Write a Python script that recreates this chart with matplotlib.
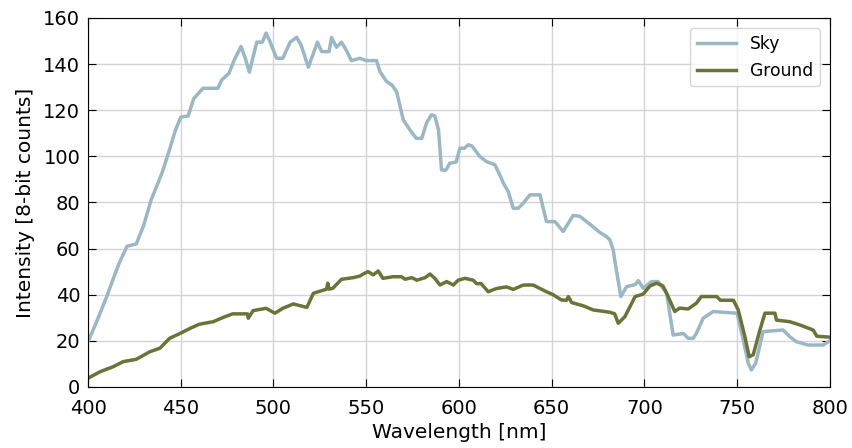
import matplotlib
matplotlib.use("Agg")
import matplotlib.pyplot as plt

sky_nm = [400, 405, 410, 415, 417, 421, 426, 430, 434, 437, 440, 444, 447, 450, 454, 457, 462, 470,
          472, 476, 479, 482.5, 485, 487, 491, 494, 496, 498, 501.7, 505, 509, 512.5, 515, 518.8,
          523.7, 526, 530, 531.3, 534, 536.7, 539.4, 542, 546.6, 550, 555.6, 557.4, 561, 563.8,
          566.4, 570, 573.6, 577, 580, 582.5, 585.2, 587, 589, 590.6, 593, 595, 598.5, 600.5, 603,
          605, 607, 611.3, 614.9, 619.4, 622, 624, 626.6, 629.3, 632, 634.7, 638.3, 643.7, 647.2,
          651.8, 656.2, 661.6, 665.2, 668.8, 672.4, 676, 679.6, 681.4, 683.2, 684, 687.3, 690.4,
          695, 696.7, 699.4, 703.8, 707.4, 712, 715.5, 721, 723.6, 726.3, 728, 731.7, 737, 746,
          750, 753.3, 756, 757.7, 760, 764, 774.8, 778.4, 782, 788.3, 796.4, 800]
sky_val = [19.6, 29, 39, 50, 54, 61, 62, 70, 81, 87, 93, 103, 111, 117, 117.5, 125, 129.5, 129.5,
           133, 136, 142, 147.6, 142, 136.5, 149.5, 149.5, 153.4, 150, 142.5, 142.5, 149.5, 151.6, 148, 138.6,
           149.5, 145.4, 145.4, 151.5, 147.3, 149.5, 145.8, 141.5, 142.5, 141.5, 141.5, 136.7, 132.4, 131,
           128, 115.8, 111.4, 107.8, 107.8, 114.4, 118, 117.5, 111.4, 94.1, 94, 97, 97.5, 103.5, 103.5,
           105, 104.5, 99.9, 97.7, 96.3, 92, 88.3, 84.7, 77.5, 77.5, 79.7, 83.3, 83.3, 71.7,
           71.7, 67.4, 74.4, 74, 71.7, 69.4, 67, 65.2, 63.7, 59.4, 55, 39.2, 43.5,
           44.4, 46.1, 42.8, 45.7, 45.7, 40.6, 22.5, 23.2, 21.1, 21.1, 23.2, 29.8, 32.7, 32.2,
           32, 20.4, 10.3, 7.4, 10.3, 24, 24.7, 21.8, 19.6, 18.2, 18.2, 20]

ground_nm = [400, 406.5, 413.6, 419, 426, 433.4, 438.8, 444, 449.6, 455, 460, 467.5, 473, 478, 486,
             486.4, 489, 496, 500.8, 505, 510.7, 518, 521.5, 528.6, 529.3, 530, 532, 536.7, 543,
             546.6, 548.4, 551, 553.8, 556.5, 559, 564.5, 569, 571, 574.6, 577.3, 581.8, 584.4, 587,
             589.8, 593.4, 597, 599.6, 603.2, 607.7, 609.5, 612, 615.8, 620.3, 625.7, 629.3, 634.7,
             640, 643.7, 647.2, 650.8, 655.3, 658, 659, 660.8, 667, 672.4, 681.4, 684, 685.9, 689.5,
             695, 699.4, 703, 706.6, 710, 712, 716.4, 719, 723.6, 728, 730.7, 739, 741, 748, 750.6,
             754.2, 756.5, 758.7, 762.3, 765, 770.4, 771.2, 778.4, 783.8, 791, 793, 800]
ground_val = [3.8, 6.6, 8.8, 11, 12, 15.3, 16.8, 21.1, 23.2, 25.4, 27.2, 28.3, 30.2, 31.7, 31.7,
              29.8, 33.1, 34.1, 32, 34.1, 36, 34.5, 40.6, 42.4, 45, 42.4, 42.8, 46.7, 47.4,
              48.1, 49, 50, 48.6, 50.3, 47.1, 47.8, 47.8, 46.7, 47.4, 46.3, 47.4, 49, 47.1,
              44.2, 45.7, 44.2, 46.3, 47.1, 46.3, 44.8, 44.8, 41.3, 42.7, 43.4, 42.3, 44.2,
              44.2, 42.7, 41.3, 40, 37.7, 37.6, 39.2, 36.6, 35.2, 33.4, 32.4, 31.7, 27.6, 30.5,
              39.2, 40.3, 43.8, 45, 43.8, 40.6, 32.7, 34.2, 33.8, 36.3, 39.2, 39.2, 37.6, 37.6, 33.4,
              21.8, 13.1, 14, 24.7, 32, 32, 29, 28.3, 26.9, 24.7, 22, 21.6]

fig = plt.figure(figsize=(8.52, 4.48), dpi=100)
ax = fig.add_axes([0.1033, 0.1362, 0.8707, 0.8238])
ax.plot(sky_nm, sky_val, color="#9bb7c4", lw=2.5, label="Sky")
ax.plot(ground_nm, ground_val, color="#6b7339", lw=2.5, label="Ground")
ax.set_xlim(400, 800)
ax.set_ylim(0, 160)
ax.set_xticks(range(400, 801, 50))
ax.set_yticks(range(0, 161, 20))
ax.grid(True, color="#d4d4d4", lw=1)
ax.set_axisbelow(True)
ax.tick_params(direction="in", top=True, right=True, labelsize=14, length=5.5)
ax.tick_params(axis="x", pad=8.5)
ax.tick_params(axis="y", pad=5.5)
ax.set_xlabel("Wavelength [nm]", fontsize=14.5, labelpad=4)
ax.set_ylabel("Intensity [8-bit counts]", fontsize=14.5, labelpad=6)
ax.legend(loc="upper right", fontsize=12.3, borderaxespad=0.6, handlelength=2.3)
fig.savefig("out.png", dpi=100)
